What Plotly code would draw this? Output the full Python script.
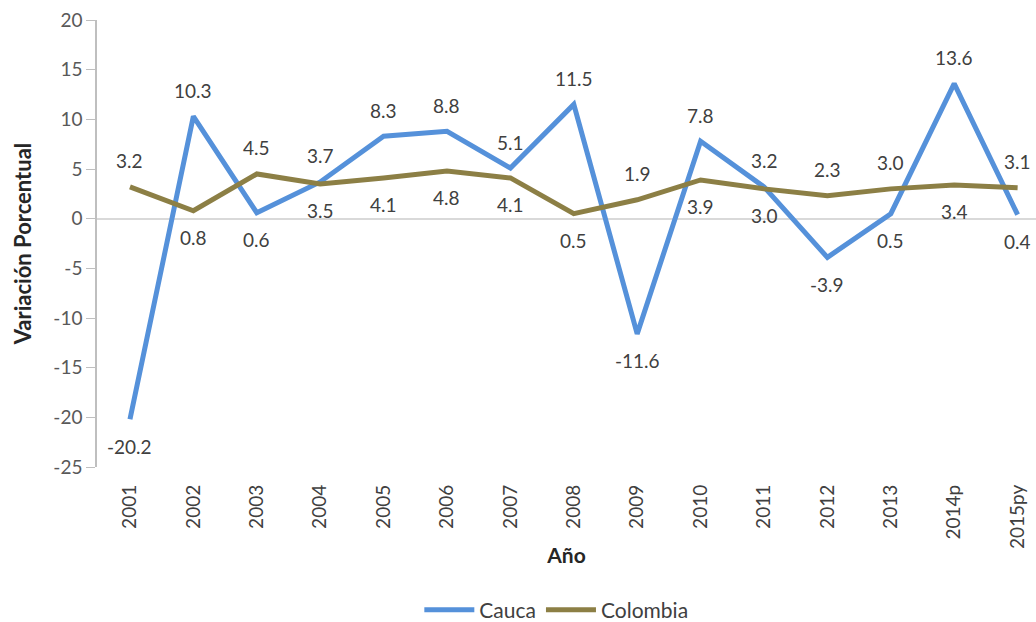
import plotly.graph_objects as go

years = ["2001", "2002", "2003", "2004", "2005", "2006", "2007", "2008",
         "2009", "2010", "2011", "2012", "2013", "2014p", "2015py"]
cauca = [-20.2, 10.3, 0.6, 3.7, 8.3, 8.8, 5.1, 11.5, -11.6, 7.8, 3.2, -3.9, 0.5, 13.6, 0.4]
colombia = [3.2, 0.8, 4.5, 3.5, 4.1, 4.8, 4.1, 0.5, 1.9, 3.9, 3.0, 2.3, 3.0, 3.4, 3.1]
y_ticks = [20, 15, 10, 5, 0, -5, -10, -15, -20, -25]
y_tick_labels = ["20", "15", "10", "5", "0", "-5", "-10", "-15", "-20", "-25"]

FONT = "Lato"
LABEL_COLOR = "#404040"
C_CAUCA = "#5591DA"
C_COL = "#8C7F45"

fig = go.Figure()
fig.add_trace(go.Scatter(x=years, y=cauca, mode="lines", name="Cauca",
                         line=dict(color=C_CAUCA, width=5)))
fig.add_trace(go.Scatter(x=years, y=colombia, mode="lines", name="Colombia",
                         line=dict(color=C_COL, width=5)))

annotations = []
for i in range(len(years)):
    a, b = cauca[i], colombia[i]
    for val, other in ((a, b), (b, a)):
        up = val >= other
        annotations.append(dict(
            x=i, y=val, xref="x", yref="y", text=f"{val:.1f}",
            showarrow=False, yshift=26 if up else -27,
            font=dict(family=FONT, size=19, color=LABEL_COLOR)))

fig.update_layout(
    width=1036, height=622,
    margin=dict(l=97, r=0, t=20, b=155, autoexpand=False),
    paper_bgcolor="white", plot_bgcolor="white",
    font=dict(family=FONT, size=19, color="#595959"),
    showlegend=True,
    legend=dict(orientation="h", xref="container", yref="container",
                x=0.537, xanchor="center", y=0.019, yanchor="middle",
                font=dict(family=FONT, size=21, color="#404040"),
                itemwidth=50, tracegroupgap=0),
    annotations=annotations,
    xaxis=dict(type="category", range=[-0.52, 14.29], showgrid=False, showline=False,
               ticks="", tickangle=-90, automargin=False, ticklabelstandoff=13,
               tickfont=dict(family=FONT, size=19, color="#404040"),
               title=dict(text="<b>Año</b>", font=dict(family=FONT, size=21, color="#262626"),
                          standoff=0)),
    yaxis=dict(range=[-25, 20], tickvals=y_ticks, ticktext=y_tick_labels,
               showgrid=False, zeroline=True, automargin=False,
               zerolinecolor="#D9D9D9", zerolinewidth=2,
               showline=True, linecolor="#BFBFBF", linewidth=1.5,
               ticks="outside", ticklen=9, tickcolor="#BFBFBF",
               tickfont=dict(family=FONT, size=19, color="#595959"),
               title=dict(text="<b>Variación Porcentual</b>",
                          font=dict(family=FONT, size=22, color="#262626"), standoff=16)),
)

fig.write_html(
    "out.html",
    config={"displayModeBar": False},
    post_script="document.body.style.margin='0';document.body.style.overflow='hidden';",
)
